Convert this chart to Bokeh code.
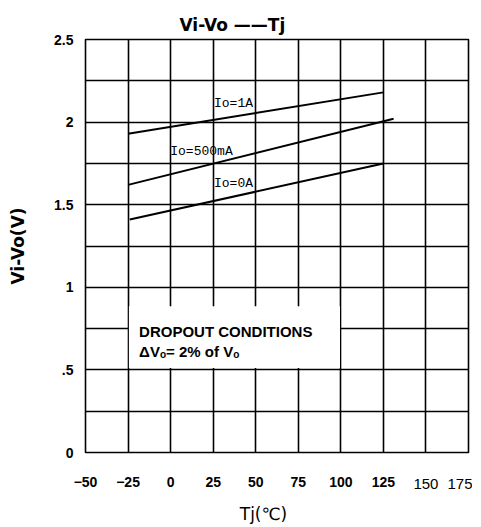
from bokeh.plotting import figure
from bokeh.models import Range1d, FixedTicker, LinearAxis
from bokeh.core.properties import value
from bokeh.embed import file_html
from bokeh.resources import INLINE

# ---- data ----
x_ticks = [-50, -25, 0, 25, 50, 75, 100, 125, 150, 175]
x_ticks_plain = [150, 175]
y_ticks = [0, 0.5, 1, 1.5, 2, 2.5]
y_minor = [0.25, 0.75, 1.25, 1.75, 2.25]

t_1a = [-25, 125]
v_1a = [1.93, 2.18]
t_500ma = [-25, 131]
v_500ma = [1.62, 2.02]
t_0a = [-24, 125]
v_0a = [1.41, 1.75]

label_text = ["Io=1A", "Io=500mA", "Io=0A"]
label_x = [25.5, -0.2, 25.5]
label_y = [2.11, 1.82, 1.63]

box_left, box_right, box_bottom, box_top = -25, 100, 0.5, 0.885
note_text = ["DROPOUT  CONDITIONS", "ΔVₒ= 2% of Vₒ"]
note_x = [-18.5, -18.5]
note_y = [0.735, 0.61]

p = figure(frame_width=383, frame_height=413, output_backend="svg", toolbar_location=None,
           x_range=Range1d(-50, 175), y_range=Range1d(0, 2.5))
p.min_border_left = 85
p.min_border_right = 4
p.min_border_top = 39
p.min_border_bottom = 70
p.background_fill_color = "white"
p.border_fill_color = "white"
p.outline_line_color = "black"
p.outline_line_width = 1.6

p.title.text = "Vi-Vo ——Tj"
p.title.align = "left"
p.title.offset = 94
p.title.text_font = "DejaVu Sans"
p.title.text_font_style = "bold"
p.title.text_font_size = "17px"
p.title.text_color = "black"

# axes
xa = p.xaxis[0]
xa.ticker = FixedTicker(ticks=x_ticks)
xa.major_label_overrides = {150: "", 175: ""}
xa.axis_line_color = None
xa.major_tick_line_color = None
xa.minor_tick_line_color = None
xa.major_label_text_font = "Liberation Sans"
xa.major_label_text_font_style = "bold"
xa.major_label_text_font_size = "14px"
xa.major_label_text_color = "black"
xa.major_label_standoff = 18

xa2 = LinearAxis(ticker=FixedTicker(ticks=x_ticks_plain))
xa2.axis_line_color = None
xa2.major_tick_line_color = None
xa2.minor_tick_line_color = None
xa2.major_label_text_font = "Liberation Sans"
xa2.major_label_text_font_style = "normal"
xa2.major_label_text_font_size = "15px"
xa2.major_label_text_color = "black"
xa2.major_label_standoff = -17
xa2.axis_label = "Tj(℃)\u00a0\u00a0\u00a0\u00a0\u00a0"
xa2.axis_label_text_font = "DejaVu Sans"
xa2.axis_label_text_font_style = "normal"
xa2.axis_label_text_font_size = "17px"
xa2.axis_label_text_color = "black"
xa2.axis_label_standoff = 12
p.add_layout(xa2, "below")

ya = p.yaxis[0]
ya.ticker = FixedTicker(ticks=y_ticks, minor_ticks=y_minor)
ya.major_label_overrides = {0.5: ".5", 2.5: "2.5", 2: "2", 1: "1", 0: "0", 1.5: "1.5"}
ya.axis_line_color = None
ya.major_tick_line_color = None
ya.minor_tick_line_color = None
ya.major_label_text_font = "Liberation Sans"
ya.major_label_text_font_style = "bold"
ya.major_label_text_font_size = "14px"
ya.major_label_text_color = "black"
ya.major_label_standoff = 6
ya.axis_label = "Vi-Vo(V)"
ya.axis_label_text_font = "DejaVu Sans"
ya.axis_label_text_font_style = "bold"
ya.axis_label_text_font_size = "17px"
ya.axis_label_text_color = "black"
ya.axis_label_standoff = 23

# grids
p.xgrid.ticker = FixedTicker(ticks=x_ticks)
p.xgrid.grid_line_color = "black"
p.xgrid.grid_line_width = 1.6
p.xgrid.grid_line_alpha = 1
p.ygrid.ticker = FixedTicker(ticks=y_ticks, minor_ticks=y_minor)
p.ygrid.grid_line_color = "black"
p.ygrid.grid_line_width = 1.6
p.ygrid.grid_line_alpha = 1
p.ygrid.minor_grid_line_color = "black"
p.ygrid.minor_grid_line_width = 1.6
p.ygrid.minor_grid_line_alpha = 1

# note box (white panel over grid, grid verticals at its edges kept)
p.quad(left=[box_left + 0.5], right=[box_right - 0.5], bottom=[box_bottom + 0.012],
       top=[box_top], fill_color="white", line_color=None)
p.text(x=note_x, y=note_y, text=note_text, text_font=value("Liberation Sans"),
       text_font_style="bold", text_font_size="15px", text_baseline="middle",
       text_color="black")

# curves
for xs, ys in [(t_1a, v_1a), (t_500ma, v_500ma), (t_0a, v_0a)]:
    p.line(xs, ys, line_color="black", line_width=2)

p.text(x=label_x, y=label_y, text=label_text, text_font=value("Liberation Mono"),
       text_font_size="13px", text_baseline="middle", text_color="black")

open("out.html", "w").write(file_html(p, INLINE))
